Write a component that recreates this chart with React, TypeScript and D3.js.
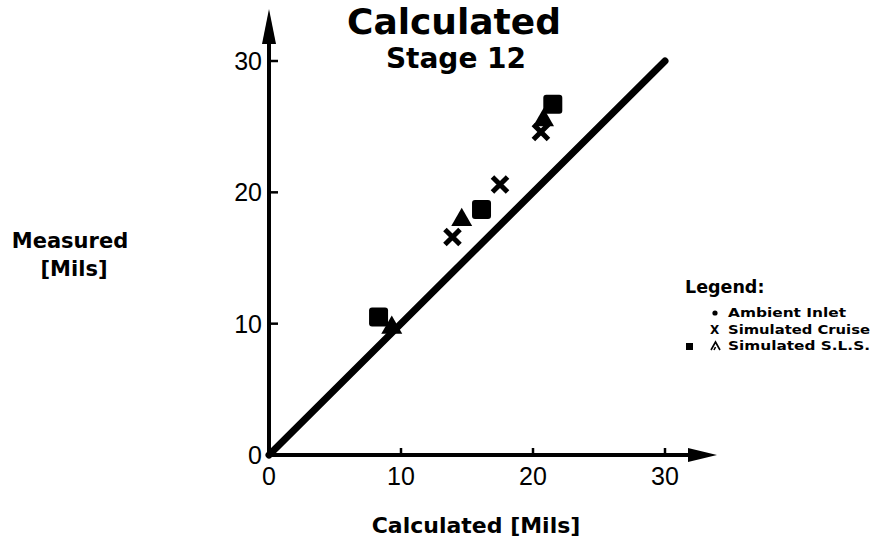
import React from 'react';
import * as d3 from 'd3';

// values (mils)
const axisTicks = [0, 10, 20, 30];
const identityLine = [0, 30];

const cruiseX = [13.9, 17.5, 20.6];
const cruiseY = [16.6, 20.6, 24.6];

const slsSquareX = [8.3, 16.1, 21.5];
const slsSquareY = [10.5, 18.7, 26.7];

const slsTriangleX = [9.3, 14.6, 20.8];
const slsTriangleY = [9.7, 17.9, 25.5];

const legendLabels = ['Ambient Inlet', 'Simulated Cruise', 'Simulated S.L.S.'];
const legendLengths = [118, 142, 142];

const W = 882;
const H = 545;
const bold = '"DejaVu Sans", sans-serif';
const plain = '"Liberation Sans", Arial, sans-serif';

const App = () => {
    // Set the ranges
    const x = d3.scaleLinear().domain([0, 30]).range([269, 665]);
    const y = d3.scaleLinear().domain([0, 30]).range([455, 61]);

    const x0 = x(0);
    const y0 = y(0);

    const diagonal = d3.line<number>()
        .x(d => x(d))
        .y(d => y(d));

    const triangle = d3.symbol().type(d3.symbolTriangle).size(190)();
    const cross = d3.symbol().type(d3.symbolTimes).size(150)();
    const sq = 19;

    return (
        <svg width={W} height={H} style={{ position: 'absolute', left: 0, top: 0, background: '#fff' }}>
            {/* title */}
            <text x={454} y={34} textAnchor="middle" fontFamily={bold} fontWeight="bold" fontSize={36}>
                Calculated
            </text>
            <text x={456} y={68} textAnchor="middle" fontFamily={bold} fontWeight="bold" fontSize={28}>
                Stage 12
            </text>

            {/* y axis with arrow */}
            <line x1={x0} x2={x0} y1={y0 + 2} y2={30} stroke="#000" strokeWidth={4} />
            <path d={`M${x0},9 L${x0 - 7},44 L${x0 + 7},44 Z`} fill="#000" />
            {axisTicks.filter(t => t > 0).map(t => (
                <line key={'yt' + t} x1={x0} x2={x0 + 9} y1={y(t)} y2={y(t)} stroke="#000" strokeWidth={2.5} />
            ))}
            {axisTicks.map(t => (
                <text key={'yl' + t} x={x0 - 7} y={y(t)} dy="0.36em" textAnchor="end" fontFamily={plain} fontSize={25}>
                    {t}
                </text>
            ))}

            {/* x axis with arrow */}
            <line x1={x0 - 2} x2={695} y1={y0} y2={y0} stroke="#000" strokeWidth={4} />
            <path d={`M717,${y0} L688,${y0 - 7} L688,${y0 + 7} Z`} fill="#000" />
            {axisTicks.filter(t => t > 0).map(t => (
                <line key={'xt' + t} x1={x(t)} x2={x(t)} y1={y0} y2={y0 - 7} stroke="#000" strokeWidth={2.5} />
            ))}
            {axisTicks.map(t => (
                <text key={'xl' + t} x={x(t)} y={485} textAnchor="middle" fontFamily={plain} fontSize={25}>
                    {t}
                </text>
            ))}

            {/* axis titles */}
            <text x={476} y={533} textAnchor="middle" fontFamily={bold} fontWeight="bold" fontSize={22}>
                Calculated [Mils]
            </text>
            <text x={70} y={248} textAnchor="middle" fontFamily={bold} fontWeight="bold" fontSize={21}>
                Measured
            </text>
            <text x={74} y={276} textAnchor="middle" fontFamily={bold} fontWeight="bold" fontSize={21}>
                [Mils]
            </text>

            {/* measured = calculated line */}
            <path d={diagonal(identityLine) || ''} stroke="#000" strokeWidth={7} strokeLinecap="round" fill="none" />

            {/* Simulated S.L.S. squares */}
            {slsSquareX.map((v, i) => (
                <rect key={'sq' + i} x={x(v) - sq / 2} y={y(slsSquareY[i]) - sq / 2} width={sq} height={sq} rx={3} fill="#000" />
            ))}

            {/* Simulated S.L.S. triangles */}
            {slsTriangleX.map((v, i) => (
                <path key={'tr' + i} d={triangle || ''} transform={`translate(${x(v)},${y(slsTriangleY[i])})`} fill="#000" />
            ))}

            {/* Simulated Cruise crosses */}
            {cruiseX.map((v, i) => (
                <path key={'cr' + i} d={cross || ''} transform={`translate(${x(v)},${y(cruiseY[i])})`}
                    stroke="#000" strokeWidth={5} fill="none" />
            ))}

            {/* legend */}
            <text x={685} y={293} fontFamily={bold} fontWeight="bold" fontSize={17.5}>Legend:</text>
            <circle cx={715} cy={313} r={2.6} fill="#000" />
            <text x={710} y={334} fontFamily={bold} fontWeight="bold" fontSize={12}>X</text>
            <rect x={686} y={343} width={7} height={7} fill="#000" />
            <path d="M711,350 L715.5,342 L720,350 M714,350 L715.5,347" stroke="#000" strokeWidth={1.6} fill="none" />
            {legendLabels.map((label, i) => (
                <text key={label} x={728} y={317 + i * 16.5} fontFamily={bold} fontWeight="bold" fontSize={12}
                    textLength={legendLengths[i]} lengthAdjust="spacingAndGlyphs">
                    {label}
                </text>
            ))}
        </svg>
    );
};

export default App;
